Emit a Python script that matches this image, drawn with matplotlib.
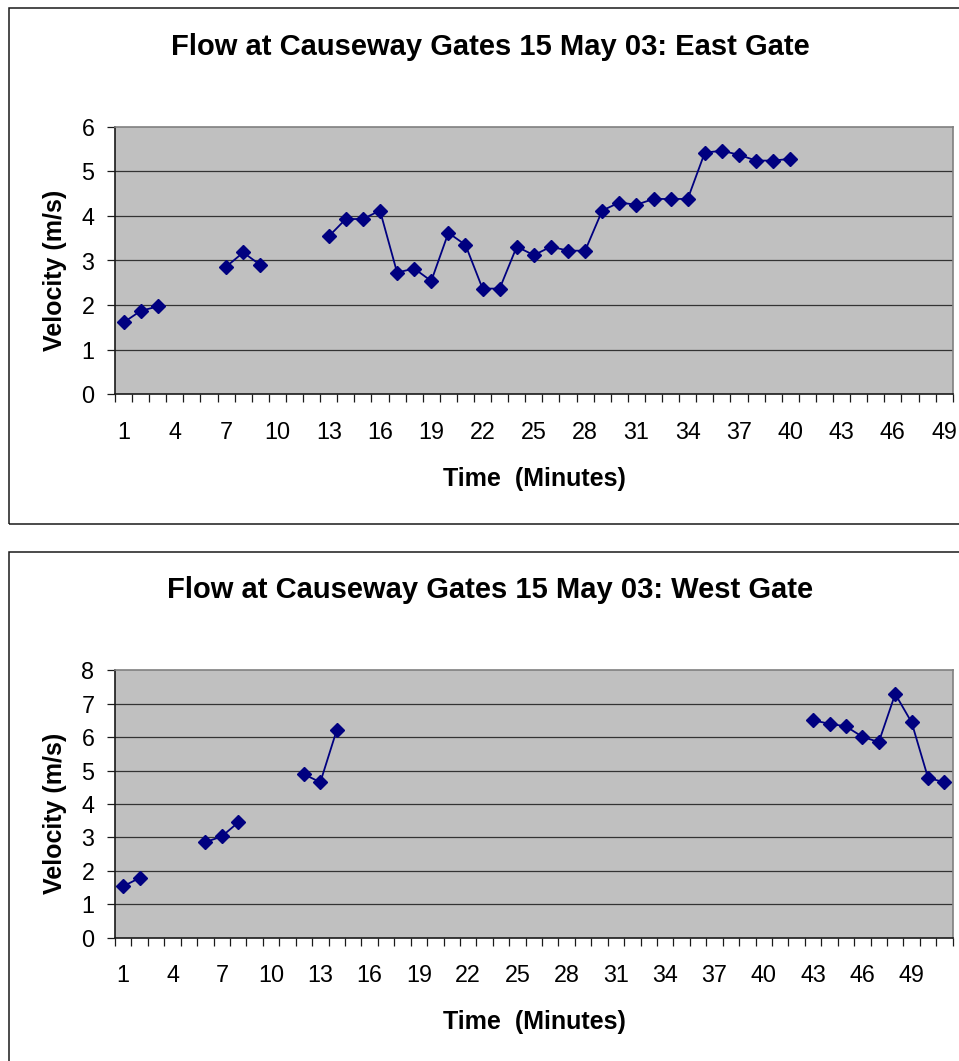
import numpy as np
import pandas as pd
import matplotlib
matplotlib.use("Agg")
import matplotlib.pyplot as plt
from matplotlib.patches import Rectangle

plt.rcParams['font.family'] = ['Liberation Sans', 'DejaVu Sans']

# ---------------- data ----------------
east_title = "Flow at Causeway Gates 15 May 03: East Gate"
west_title = "Flow at Causeway Gates 15 May 03: West Gate"
x_label = "Time  (Minutes)"
y_label = "Velocity (m/s)"

east_n_minutes = 49
east_minutes = [1, 2, 3, 7, 8, 9, 13, 14, 15, 16, 17, 18, 19, 20, 21, 22, 23, 24,
                25, 26, 27, 28, 29, 30, 31, 32, 33, 34, 35, 36, 37, 38, 39, 40]
east_velocity = [1.61, 1.87, 1.97, 2.86, 3.18, 2.90, 3.54, 3.93, 3.93, 4.12, 2.73, 2.82,
                 2.54, 3.62, 3.35, 2.37, 2.37, 3.31, 3.12, 3.31, 3.22, 3.22, 4.12, 4.30,
                 4.25, 4.38, 4.38, 4.38, 5.42, 5.46, 5.37, 5.24, 5.24, 5.28]

west_n_minutes = 51
west_minutes = [1, 2, 6, 7, 8, 12, 13, 14, 43, 44, 45, 46, 47, 48, 49, 50, 51]
west_velocity = [1.54, 1.79, 2.86, 3.03, 3.45, 4.89, 4.65, 6.21, 6.50, 6.40, 6.32,
                 6.01, 5.85, 7.29, 6.44, 4.78, 4.65]

tick_labels = [1, 4, 7, 10, 13, 16, 19, 22, 25, 28, 31, 34, 37, 40, 43, 46, 49]
east_yticks = [0, 1, 2, 3, 4, 5, 6]
west_yticks = [0, 1, 2, 3, 4, 5, 6, 7, 8]

# ---------------- figure ----------------
W, H = 959, 1061
fig = plt.figure(figsize=(W / 100, H / 100), dpi=100)
fig.patch.set_facecolor('white')

NAVY = '#000080'
TICK_FS = 16.8
LABEL_FS = 18
TITLE_FS = 21


def fx(px):
    return px / W


def fy(py):
    return 1 - py / H


def make_panel(offset, title, minutes, velocity, n_minutes, yticks):
    # outer chart-area border
    fig.patches.append(Rectangle((fx(9), fy(524 + offset)), fx(971) - fx(9),
                                 (524 - 8.5) / H, transform=fig.transFigure,
                                 fill=False, edgecolor='#1a1a1a', linewidth=1.1,
                                 zorder=0))
    fig.text(fx(490), fy(47 + offset), title, ha='center', va='center',
             fontsize=TITLE_FS, fontweight='bold')
    fig.text(fx(55), fy(270 + offset), y_label, ha='center', va='center',
             rotation=90, fontsize=LABEL_FS, fontweight='bold')
    fig.text(fx(534), fy(479 + offset), x_label, ha='center', va='center',
             fontsize=LABEL_FS, fontweight='bold')

    top, bottom = 126.7 + offset, 394.3 + offset
    ax = fig.add_axes([fx(115), fy(bottom), fx(952.7) - fx(115), (bottom - top) / H])
    ax.set_facecolor('#C0C0C0')

    s = pd.Series(velocity, index=minutes).reindex(range(1, n_minutes + 1))
    ax.plot(s.index, s.values, color=NAVY, linewidth=1.3, marker='D',
            markersize=7.4, markerfacecolor=NAVY, markeredgecolor=NAVY, zorder=3)

    ax.set_xlim(0.5, n_minutes + 0.5)
    ax.set_ylim(yticks[0], yticks[-1])
    ax.set_yticks(yticks)
    ax.set_yticklabels([str(v) for v in yticks])
    for v in yticks[1:-1]:
        ax.axhline(v, color='#333333', linewidth=0.9, zorder=1)

    ax.set_xticks(np.arange(0.5, n_minutes + 1, 1.0))
    ax.set_xticklabels([])
    ax.set_xticks(tick_labels, minor=True)
    ax.set_xticklabels([str(t) for t in tick_labels], minor=True)
    ax.tick_params(axis='x', which='major', direction='out', length=5.8, width=0.9,
                   color='#1a1a1a')
    ax.tick_params(axis='x', which='minor', length=0, pad=19, labelsize=TICK_FS)
    ax.tick_params(axis='y', direction='out', length=5.8, width=0.9, pad=9,
                   labelsize=TICK_FS, color='#1a1a1a')

    for side in ('left', 'bottom'):
        ax.spines[side].set_color('#1a1a1a')
        ax.spines[side].set_linewidth(1.2)
    for side in ('top', 'right'):
        ax.spines[side].set_color('#808080')
        ax.spines[side].set_linewidth(1.2)
    return ax


make_panel(0, east_title, east_minutes, east_velocity, east_n_minutes, east_yticks)
make_panel(543.5, west_title, west_minutes, west_velocity, west_n_minutes, west_yticks)

fig.savefig('out.png', dpi=100)
